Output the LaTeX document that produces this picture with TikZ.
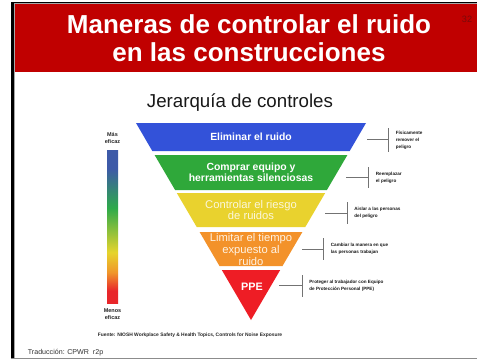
\documentclass[tikz,border=0pt]{standalone}
\usepackage{fontspec}
\setmainfont{Liberation Sans}

\definecolor{headred}{HTML}{C00000}
\definecolor{pagered}{HTML}{7A0A0A}
\definecolor{blueband}{HTML}{3352D9}
\definecolor{greenband}{HTML}{2FA83A}
\definecolor{yellowband}{HTML}{E9D22E}
\definecolor{orangeband}{HTML}{F3922A}
\definecolor{redband}{HTML}{EE1D25}
\definecolor{yellowtext}{HTML}{FBF7DC}
\definecolor{orangetext}{HTML}{FFF3E4}
\definecolor{barblue}{HTML}{3D5AA8}
\definecolor{bargreen}{HTML}{2EAA4A}
\definecolor{baryellow}{HTML}{E6D42C}
\definecolor{barorange}{HTML}{F0962A}
\definecolor{barred}{HTML}{E8262A}

\pgfdeclareverticalshading{effbar}{100bp}{color(0bp)=(barred); color(29bp)=(barred); color(35bp)=(barorange); color(41.5bp)=(baryellow); color(56bp)=(bargreen); color(69bp)=(barblue); color(100bp)=(barblue)}

\begin{document}
\begin{tikzpicture}[x=0.5pt, y=-0.5pt,
		bandtext/.style={align=center, inner sep=0, text=white, font=\bfseries\fontsize{5.2}{5.35}\selectfont},
		softtext/.style={align=center, inner sep=0, font=\fontsize{5.6}{5.85}\selectfont},
		note/.style={anchor=west, align=left, inner sep=0, text=black!90, font=\bfseries\fontsize{2.3}{3.5}\selectfont},
		bracket/.style={draw=black!55, line width=0.5pt},
		effic/.style={align=center, inner sep=0, text=black!85, font=\bfseries\fontsize{2.75}{3.75}\selectfont}]
		\useasboundingbox (0,0) rectangle (477,360);
		\fill[white] (0,0) rectangle (477,360);
		\fill[headred] (15,4) rectangle (477,72);
		\fill[black] (11,2) rectangle (14,359);
		\fill[black] (11,2) rectangle (477,3.3);
		\fill[black!35] (14,3.3) rectangle (477,4.4);
		\fill[black!35] (14,3.3) rectangle (15.3,358);
		\fill[black!45] (11,357.8) rectangle (477,359.3);

		\node[anchor=base, inner sep=0, text=white, font=\bfseries\fontsize{13}{14}\selectfont] (title1) at (249,33) {Maneras de controlar el ruido};
		\node[anchor=base, inner sep=0, text=white, font=\bfseries\fontsize{13}{14}\selectfont] (title2) at (249,61) {en las construcciones};
		\node[inner sep=0, text=pagered, font=\fontsize{4.6}{5}\selectfont] (pagenum) at (467,19.5) {32};
		\node[anchor=base, inner sep=0, text=black!90, font=\fontsize{9.35}{10}\selectfont] (heading) at (240,107.5) {Jerarquía de controles};

		\fill[blueband] (136,123) -- (366,123) -- (349.7,151) -- (152.3,151) -- cycle;
		\fill[greenband] (154.6,155) -- (347.4,155) -- (326.9,190) -- (175.1,190) -- cycle;
		\fill[yellowband] (176.8,193) -- (325.2,193) -- (305.3,227) -- (196.7,227) -- cycle;
		\fill[orangeband] (199.6,232) -- (302.4,232) -- (282.5,266) -- (219.5,266) -- cycle;
		\fill[redband] (221.8,270) -- (280.2,270) -- (251,320) -- cycle;

		\node[bandtext] (elim) at (251,137) {Eliminar el ruido};
		\node[bandtext] (compra) at (251,172) {Comprar equipo y\\herramientas silenciosas};
		\node[softtext, text=yellowtext] (riesgo) at (251,210) {Controlar el riesgo\\de ruidos};
		\node[softtext, text=orangetext] (tiempo) at (251,249.5) {Limitar el tiempo\\expuesto al\\ruido};
		\node[bandtext, font=\bfseries\fontsize{5.4}{6}\selectfont] (ppe) at (252,287) {PPE};

		\coordinate (b1) at (367,139);
		\coordinate (t1) at (388,139);
		\draw[bracket] (b1) -- (t1) ++(0,-11) -- ++(0,24);
		\node[note] (n1) at (395.5,140) {Físicamente\\remover el\\peligro};
		\coordinate (b2) at (346,177.5);
		\coordinate (t2) at (368,177.5);
		\draw[bracket] (b2) -- (t2) ++(0,-10.5) -- ++(0,21);
		\node[note] (n2) at (375.5,177.5) {Reemplazar\\el peligro};
		\coordinate (b3) at (325,213);
		\coordinate (t3) at (347,213);
		\draw[bracket] (b3) -- (t3) ++(0,-11) -- ++(0,22);
		\node[note] (n3) at (354,212.5) {Aislar a las personas\\del peligro};
		\coordinate (b4) at (302,249);
		\coordinate (t4) at (323,249);
		\draw[bracket] (b4) -- (t4) ++(0,-11) -- ++(0,22);
		\node[note] (n4) at (330.5,248.5) {Cambiar la manera en que\\las personas trabajan};
		\coordinate (b5) at (279,285.5);
		\coordinate (t5) at (302,285.5);
		\draw[bracket] (b5) -- (t5) ++(0,-10.5) -- ++(0,22);
		\node[note] (n5) at (309,286) {Proteger al trabajador con Equipo\\de Protección Personal (PPE)};

		\shade[shading=effbar] (107,150) rectangle (118,303);
		\node[effic] (mas) at (112.5,138) {Más\\eficaz};
		\node[effic] (menos) at (112.5,314) {Menos\\eficaz};

		\node[anchor=base, inner sep=0, text=black!85, font=\bfseries\fontsize{2.45}{3}\selectfont] (source) at (190,336) {Fuente: NIOSH Workplace Safety \& Health Topics, Controls for Noise Exposure};
		\node[anchor=base west, inner sep=0, text=black!80, font=\fontsize{3.55}{4}\selectfont] (transl) at (27.5,354.5) {Traducción: CPWR~~r2p};
\end{tikzpicture}
\end{document}
